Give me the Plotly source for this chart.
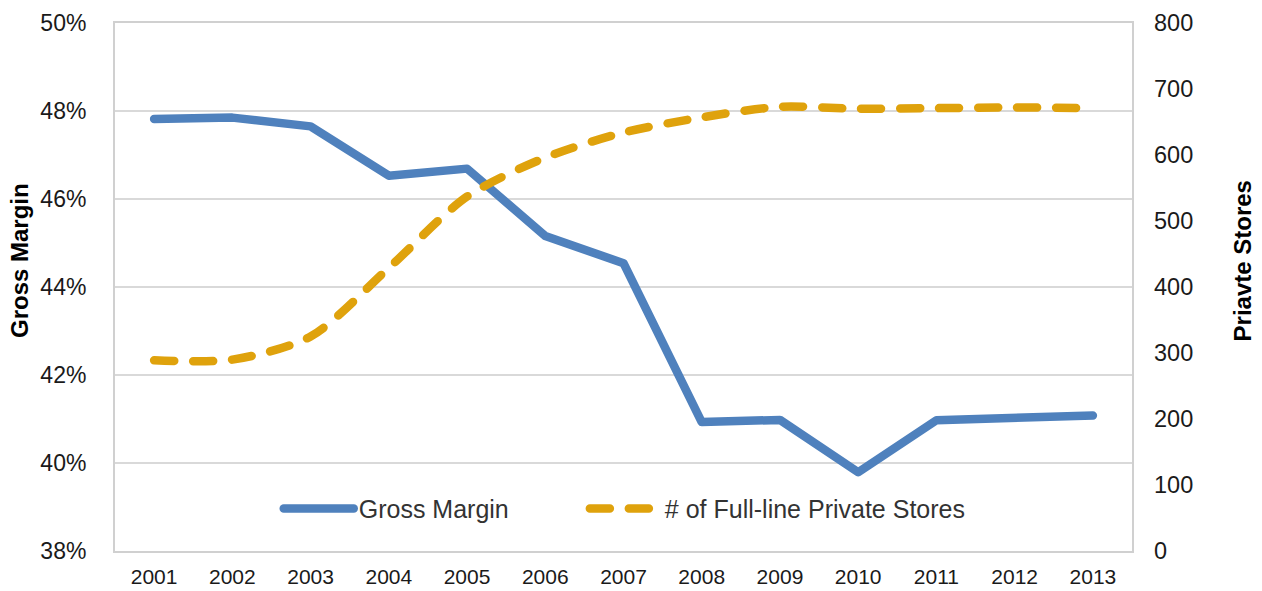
import plotly.graph_objects as go

years = ["2001", "2002", "2003", "2004", "2005", "2006", "2007",
         "2008", "2009", "2010", "2011", "2012", "2013"]
gross_margin = [0.4782, 0.4785, 0.4765, 0.4653, 0.4669, 0.4516, 0.4454,
                0.4093, 0.4098, 0.3979, 0.4097, 0.4104, 0.4108]
private_stores = [289, 290, 325, 429, 537, 596, 634, 657, 673, 670, 671, 672, 671]

BLUE = "#4f81bd"
ORANGE = "#dfa20c"
FONT = "Liberation Sans, Arial, sans-serif"

fig = go.Figure()
fig.add_trace(go.Scatter(
    x=years, y=gross_margin, name="Gross Margin", mode="lines",
    line=dict(color=BLUE, width=8.5), yaxis="y", legend="legend"))
fig.add_trace(go.Scatter(
    x=years, y=private_stores, name="# of Full-line Private Stores", mode="lines",
    line=dict(color=ORANGE, width=8.5, dash="20px,19px", shape="spline", smoothing=0.8),
    yaxis="y2", legend="legend2"))

legend_common = dict(orientation="h", y=0.08, yanchor="middle",
                     font=dict(size=25, color="#333333"), bgcolor="rgba(0,0,0,0)",
                     itemwidth=70)

fig.update_layout(
    width=1262, height=591,
    margin=dict(l=115, r=130, t=23, b=40),
    paper_bgcolor="white", plot_bgcolor="white",
    font=dict(family=FONT, size=22, color="#1a1a1a"),
    showlegend=True,
    legend=dict(x=0.161, xanchor="left", **legend_common),
    legend2=dict(x=0.462, xanchor="left", **legend_common),
    xaxis=dict(type="category", range=[-0.5, 12.5], showgrid=False, showline=True,
               linecolor="#d0d0d0", linewidth=2, mirror=True, ticks="",
               tickfont=dict(size=21), ticklabelstandoff=6, automargin=False),
    yaxis=dict(range=[0.38, 0.50], dtick=0.02, tickformat=".0%", showgrid=True,
               gridcolor="#d9d9d9", gridwidth=1.5, showline=True, linecolor="#d0d0d0",
               linewidth=2, mirror=True, ticks="", zeroline=False,
               tickfont=dict(size=23), ticklabelstandoff=22, automargin=False),
    yaxis2=dict(range=[0, 800], dtick=100, overlaying="y", side="right",
                showgrid=False, showline=False, ticks="", zeroline=False,
                tickfont=dict(size=23.5), ticklabelstandoff=21, automargin=False),
    annotations=[
        dict(text="<b>Gross Margin</b>", textangle=-90, xref="paper", yref="paper",
             x=-0.094, y=0.55, xanchor="center", yanchor="middle", showarrow=False,
             font=dict(size=24, color="#000000")),
        dict(text="<b>Priavte Stores</b>", textangle=-90, xref="paper", yref="paper",
             x=1.109, y=0.55, xanchor="center", yanchor="middle", showarrow=False,
             font=dict(size=24, color="#000000")),
    ],
)

post = """
document.documentElement.style.margin = '0';
document.body.style.margin = '0';
document.body.style.overflow = 'hidden';
document.querySelectorAll('.scatterlayer .js-line, .legendlines path').forEach(function(p){
  p.style.strokeLinecap = 'round';
  p.style.strokeLinejoin = 'round';
});
"""
fig.write_html("out.html", post_script=post, config={"displayModeBar": False})
